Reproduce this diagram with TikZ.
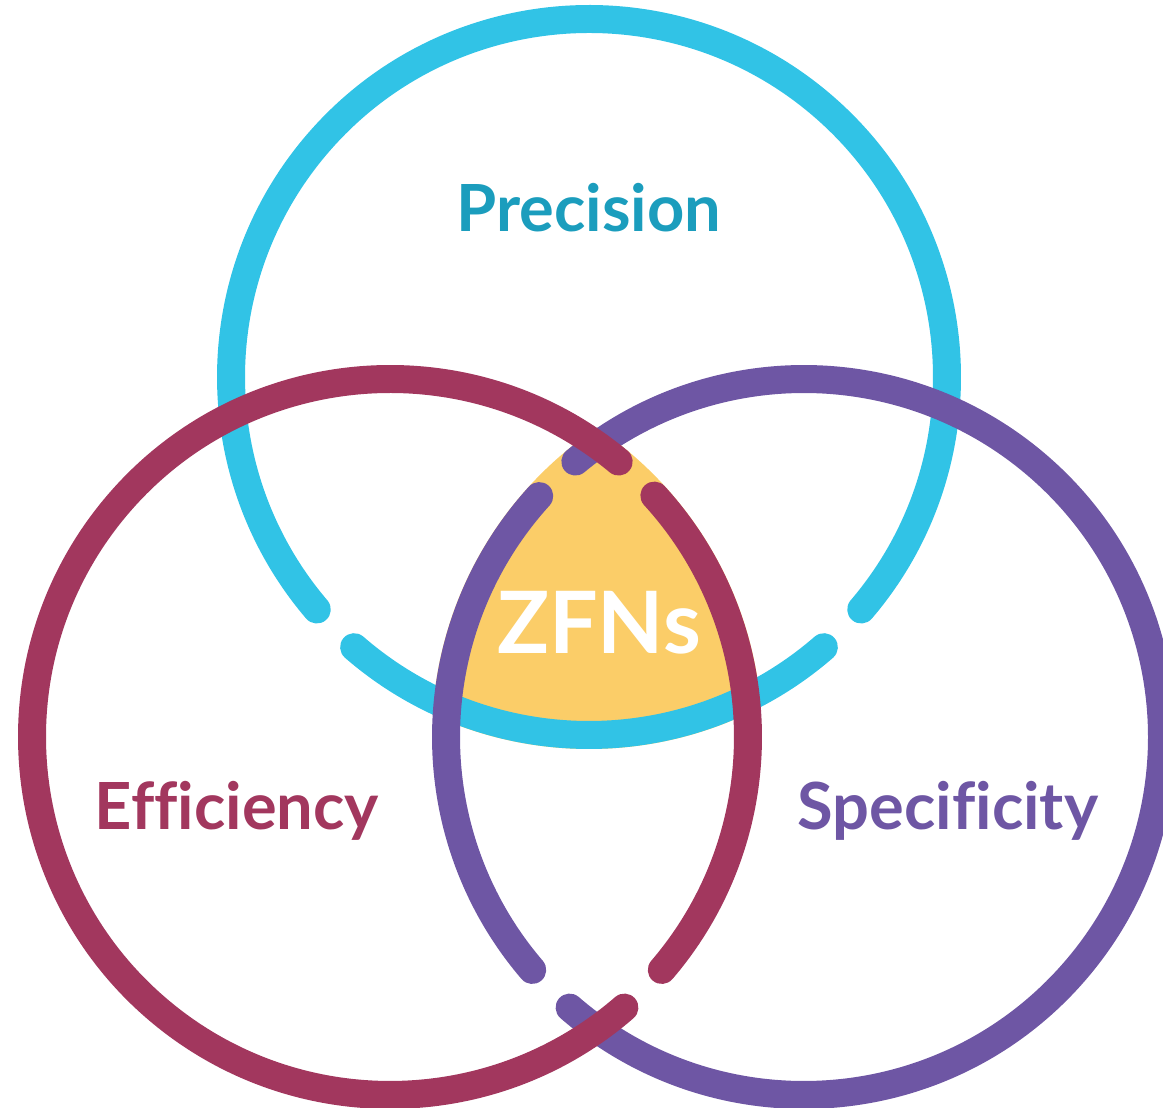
\documentclass[tikz,border=0pt]{standalone}
\usepackage{fontspec}
\setmainfont{Lato}[Ligatures=NoCommon]
\usepackage{xcolor}
\definecolor{precblue}{HTML}{31C3E6}
\definecolor{precdark}{HTML}{1B9DBD}
\definecolor{effred}{HTML}{A2375E}
\definecolor{specpurple}{HTML}{6E56A4}
\definecolor{zfnyellow}{HTML}{FBCD68}

\begin{document}
\begin{tikzpicture}[x=0.02cm,y=0.02cm]
\tikzstyle{ring}=[line width=0.56cm,line cap=round]
\tikzstyle{tag}=[inner sep=0pt,anchor=base,font=\fontsize{37}{40}\selectfont\bfseries]

\useasboundingbox (0,0) rectangle (1163,1108);
\clip (0,0) rectangle (1163,1108);

% centres of the three rings
\coordinate (cP) at (589,731);
\coordinate (cE) at (390,371);
\coordinate (cS) at (804,371);

% common core
\begin{scope}
\clip (cP) circle[radius=372];
\clip (cE) circle[radius=372];
\fill[zfnyellow] (cS) circle[radius=372];
\end{scope}

% top ring
\draw[ring,precblue] (cP) ++(-40.5:358) arc[start angle=-40.5,end angle=220.5,radius=358];
\draw[ring,precblue] (cP) ++(229:358) arc[start angle=229,end angle=311,radius=358];

% right ring
\draw[ring,specpurple] (cS) ++(-130.9:358) arc[start angle=-130.9,end angle=129.7,radius=358];
\draw[ring,specpurple] (cS) ++(137.7:358) arc[start angle=137.7,end angle=220.6,radius=358];

% left ring, on top
\draw[ring,effred] (cE) ++(50.3:358) arc[start angle=50.3,end angle=310.9,radius=358];
\draw[ring,effred] (cE) ++(-40.6:358) arc[start angle=-40.6,end angle=42.4,radius=358];

\node[tag,text=precdark] (precision) at (589,876) {Precision};
\node[tag,text=effred] (efficiency) at (237,278) {Efficiency};
\node[tag,text=specpurple] (specificity) at (948,278) {Specificity};
\node[tag,text=white,font=\fontsize{49}{52}\selectfont\bfseries] (zfns) at (599,454) {ZFNs};
\end{tikzpicture}
\end{document}
